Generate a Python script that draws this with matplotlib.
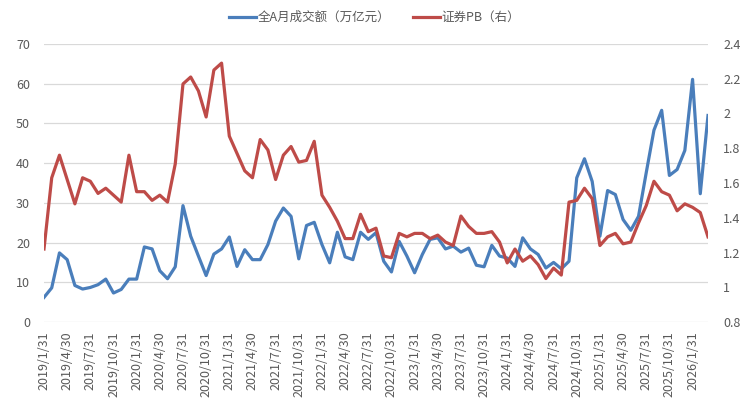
import numpy as np
import pandas as pd
import matplotlib
matplotlib.use("Agg")
import matplotlib.pyplot as plt

plt.rcParams['font.family'] = ['Noto Sans CJK SC', 'DejaVu Sans']

# monthly, 2019/1 .. 2026/3
months = pd.date_range("2019-01-31", periods=87, freq="ME")
labels = [f"{d.year}/{d.month}/{d.day}" for d in months]

# 全A月成交额（万亿元）, left axis
turnover = [6.2, 8.6, 17.4, 15.7, 9.2, 8.3, 8.7, 9.4, 10.8, 7.3, 8.2, 10.8,
            10.8, 18.9, 18.4, 12.9, 10.9, 13.9, 29.3, 21.6, 16.6, 11.7, 17.1, 18.4,
            21.4, 14.0, 18.2, 15.7, 15.7, 19.5, 25.4, 28.7, 26.6, 15.9, 24.3, 25.1,
            19.5, 14.9, 22.6, 16.4, 15.7, 22.6, 20.8, 22.5, 15.3, 12.6, 20.3, 16.6,
            12.4, 17.0, 20.8, 21.2, 18.4, 19.1, 17.6, 18.6, 14.3, 13.9, 19.3, 16.6,
            16.1, 14.0, 21.2, 18.4, 17.0, 13.6, 15.0, 13.4, 15.3, 36.3, 41.1, 35.4,
            21.6, 33.1, 32.1, 25.8, 23.1, 26.6, 37.6, 48.3, 53.3, 36.9, 38.4, 43.2,
            61.1, 32.3, 52.0]

# 证券PB（右）
pb = [1.22, 1.63, 1.76, 1.62, 1.48, 1.63, 1.61, 1.54, 1.57, 1.53, 1.49, 1.76,
      1.55, 1.55, 1.50, 1.53, 1.49, 1.71, 2.17, 2.21, 2.13, 1.98, 2.25, 2.29,
      1.87, 1.77, 1.67, 1.63, 1.85, 1.79, 1.62, 1.76, 1.81, 1.72, 1.73, 1.84,
      1.53, 1.46, 1.38, 1.28, 1.28, 1.42, 1.32, 1.34, 1.18, 1.17, 1.31, 1.29,
      1.31, 1.31, 1.28, 1.30, 1.26, 1.24, 1.41, 1.35, 1.31, 1.31, 1.32, 1.26,
      1.14, 1.22, 1.15, 1.18, 1.13, 1.05, 1.11, 1.07, 1.49, 1.50, 1.57, 1.51,
      1.24, 1.29, 1.31, 1.25, 1.26, 1.37, 1.47, 1.61, 1.55, 1.53, 1.44, 1.48,
      1.46, 1.43, 1.29]

x = np.arange(len(months))
blue, red = "#4A7EBB", "#BE4B48"
tick_c = "#595959"

fig = plt.figure(figsize=(7.46, 3.98), dpi=100)
ax = fig.add_axes([44 / 746, 76 / 398, 664 / 746, 278 / 398])
ax2 = ax.twinx()

l1, = ax.plot(x, turnover, color=blue, lw=2.3, label="全A月成交额（万亿元）", solid_joinstyle="round")
l2, = ax2.plot(x, pb, color=red, lw=2.3, label="证券PB（右）", solid_joinstyle="round")

ax.set_xlim(0, len(x) - 1)
ax.set_ylim(0, 70)
ax.set_yticks(np.arange(0, 71, 10))
ax2.set_ylim(0.8, 2.4)
ax2.set_yticks([0.8, 1.0, 1.2, 1.4, 1.6, 1.8, 2.0, 2.2, 2.4])
ax2.set_yticklabels(["0.8", "1", "1.2", "1.4", "1.6", "1.8", "2", "2.2", "2.4"])

ax.set_xticks(x[::3])
ax.set_xticklabels(labels[::3], rotation=90)

ax.grid(axis="y", color="#D9D9D9", lw=0.9)
ax.set_axisbelow(True)
for a in (ax, ax2):
    for sp in a.spines.values():
        sp.set_visible(False)
ax.tick_params(axis="y", length=0, pad=10, labelsize=9, colors=tick_c)
ax.tick_params(axis="x", length=0, pad=7, labelsize=9, colors=tick_c)
ax2.tick_params(axis="y", length=0, pad=11, labelsize=9, colors=tick_c)

fig.legend(handles=[l1, l2], loc="upper center", bbox_to_anchor=(0.502, 1.0),
           ncol=2, frameon=False, fontsize=9, handlelength=2.2,
           columnspacing=1.8, handletextpad=0.1, labelcolor=tick_c)

fig.savefig("out.png", dpi=100, facecolor="white")
